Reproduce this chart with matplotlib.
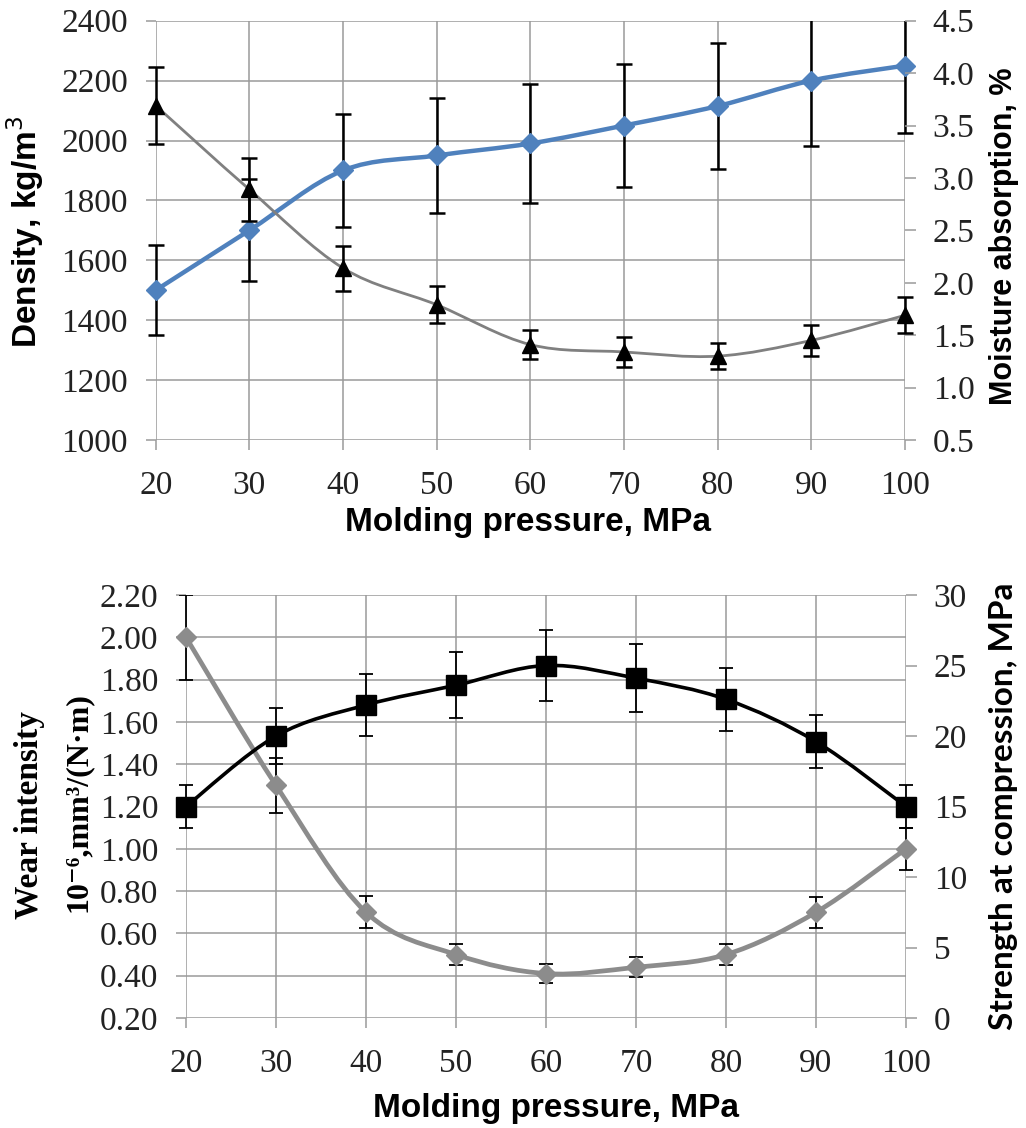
import numpy as np
import matplotlib
matplotlib.use("Agg")
import matplotlib.pyplot as plt
from matplotlib.path import Path
from matplotlib.patches import PathPatch, Rectangle

# data
pressure = [20, 30, 40, 50, 60, 70, 80, 90, 100]

density = [1500, 1700, 1900, 1950, 1990, 2050, 2115, 2200, 2250]
density_err = [150, 170, 190, 193, 198, 205, 210, 220, 226]

moisture = [3.69, 2.89, 2.14, 1.79, 1.41, 1.34, 1.30, 1.45, 1.69]
moisture_err = [0.37, 0.30, 0.215, 0.175, 0.14, 0.14, 0.125, 0.15, 0.17]

wear = [2.00, 1.30, 0.70, 0.50, 0.41, 0.44, 0.50, 0.70, 1.00]
wear_err = [0.20, 0.13, 0.075, 0.05, 0.045, 0.047, 0.05, 0.073, 0.10]

strength = [15.0, 20.0, 22.2, 23.6, 25.0, 24.1, 22.6, 19.6, 15.0]
strength_err = [1.5, 2.0, 2.2, 2.35, 2.5, 2.4, 2.25, 1.9, 1.5]

W, H = 1026, 1128
SERIF = "Liberation Serif"
SANS = "Liberation Sans"
GRID = "#9a9a9a"
TICK_FS = 24


def smooth(x, y):
    # excel-like smoothed line: catmull-rom as cubic bezier segments
    p = np.column_stack([x, y]).astype(float)
    n = len(p)
    verts = [p[0]]
    codes = [Path.MOVETO]
    for i in range(n - 1):
        p0 = p[i - 1] if i > 0 else p[i]
        p3 = p[i + 2] if i + 2 < n else p[i + 1]
        c1 = p[i] + (p[i + 1] - p0) / 6
        c2 = p[i + 1] - (p3 - p[i]) / 6
        verts += [c1, c2, p[i + 1]]
        codes += [Path.CURVE4] * 3
    return Path(verts, codes)


def px_axes(left, top, right, bottom):
    return fig.add_axes([left / W, 1 - bottom / H, (right - left) / W, (bottom - top) / H])


def style_axes(ax, ax2):
    for a in (ax, ax2):
        for s in a.spines.values():
            s.set_visible(False)
    ax.set_xlim(20, 100)
    ax.set_xticks(pressure)
    ax.grid(True, color=GRID, linewidth=1.1)
    ax.set_axisbelow(True)
    ax.tick_params(axis="both", direction="out", length=7, width=1.1, color=GRID,
                   labelsize=TICK_FS, labelcolor="#222222")
    ax.tick_params(axis="x", pad=15)
    ax.tick_params(axis="y", pad=13)
    ax2.tick_params(axis="y", direction="out", length=8, width=1.1, color=GRID,
                    labelsize=TICK_FS, labelcolor="#222222", pad=12)
    for a in (ax, ax2):
        for lab in a.get_xticklabels() + a.get_yticklabels():
            lab.set_fontfamily(SERIF)


def draw_errs(ax, x, y, e, lw, cap):
    eb = ax.errorbar(x, y, yerr=e, fmt="none", ecolor="black", elinewidth=lw,
                     capsize=cap, capthick=lw, zorder=4)
    clip = Rectangle((-0.05, 0), 1.1, 1, transform=ax.transAxes)
    for art in eb.lines[1] + eb.lines[2]:
        art.set_clip_path(clip)


def label(x, y, s, size, rot=0, fam=SANS, **kw):
    fig.text(x / W, 1 - y / H, s, rotation=rot, ha="center", va="center",
             fontsize=size, fontweight="bold", family=fam, **kw)


fig = plt.figure(figsize=(W / 100, H / 100), dpi=100)

# ---------- top panel: density / moisture ----------
ax = px_axes(155.7, 20.7, 905, 440)
ax2 = ax.twinx()
ax.set_ylim(1000, 2400)
ax.set_yticks(np.arange(1000, 2401, 200))
ax2.set_ylim(0.5, 4.5)
ax2.set_yticks(np.arange(0.5, 4.51, 0.5))
ax2.set_yticklabels([f"{v:.1f}" for v in np.arange(0.5, 4.51, 0.5)])
style_axes(ax, ax2)

ax.add_patch(PathPatch(smooth(pressure, density), facecolor="none",
                       edgecolor="#4f81bd", linewidth=3.2, zorder=3))
draw_errs(ax, pressure, density, density_err, 1.8, 6)
ax.plot(pressure, density, linestyle="none", marker="D", markersize=10.5,
        color="#4f81bd", zorder=5, clip_on=False)

ax2.add_patch(PathPatch(smooth(pressure, moisture), facecolor="none",
                        edgecolor="#808080", linewidth=2.0, zorder=3))
draw_errs(ax2, pressure, moisture, moisture_err, 1.8, 6)
ax2.plot(pressure, moisture, linestyle="none", marker="^", markersize=11,
         color="black", zorder=5, clip_on=False)

label(25, 232, "Density, kg/m$^3$", 24, rot=90, math_fontfamily="dejavusans")
label(1004, 236, "Moisture absorption, %", 22, rot=90)
label(528, 522, "Molding pressure, MPa", 24)

# ---------- bottom panel: wear / strength ----------
bx = px_axes(186, 595, 906, 1018)
bx2 = bx.twinx()
bx.set_ylim(0.2, 2.2)
bx.set_yticks(np.arange(0.2, 2.21, 0.2))
bx.set_yticklabels([f"{v:.2f}" for v in np.arange(0.2, 2.21, 0.2)])
bx2.set_ylim(0, 30)
bx2.set_yticks(np.arange(0, 31, 5))
style_axes(bx, bx2)

bx.add_patch(PathPatch(smooth(pressure, wear), facecolor="none",
                       edgecolor="#8c8c8c", linewidth=3.4, zorder=3))
draw_errs(bx, pressure, wear, wear_err, 1.3, 5)
bx.plot(pressure, wear, linestyle="none", marker="D", markersize=10.5,
        color="#8c8c8c", zorder=5, clip_on=False)

bx2.add_patch(PathPatch(smooth(pressure, strength), facecolor="none",
                        edgecolor="black", linewidth=2.6, zorder=3))
draw_errs(bx2, pressure, strength, strength_err, 1.3, 5)
bx2.plot(pressure, strength, linestyle="none", marker="s", markersize=14,
         color="black", zorder=5, clip_on=False)

label(30, 815, "Wear intensity", 24, rot=90, fam=SERIF)
label(78, 802, "10⁻⁶,mm³/(N·m)", 23, rot=90, fam=[SERIF, "DejaVu Serif"])
label(1004, 806, "Strength at compression, MPa", 24, rot=90, fam="Lato")
label(556, 1108, "Molding pressure, MPa", 24)

fig.savefig("out.png", dpi=100, facecolor="white")
